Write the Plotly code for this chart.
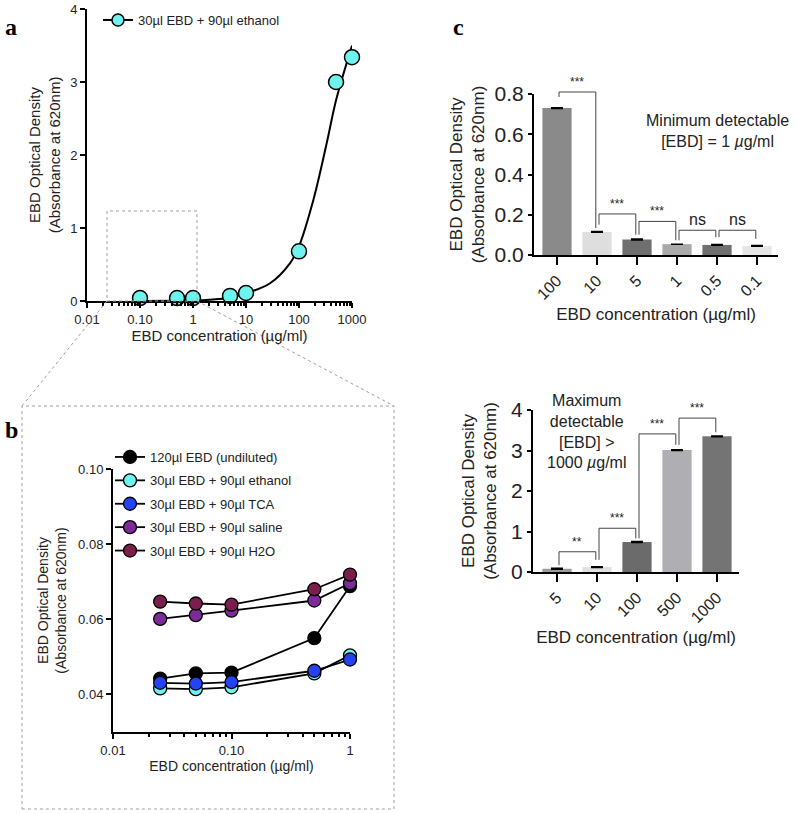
import plotly.graph_objects as go

FONT = "Liberation Sans"
SERIF = "Liberation Serif"

# ---------------- data ----------------
# panel a : ethanol dilution, full range
a_conc = [0.1, 0.5, 1, 5, 10, 100, 500, 1000]
a_od = [0.04, 0.04, 0.04, 0.07, 0.11, 0.68, 3.00, 3.34]
# fitted curve
fit_conc = [0.1, 0.5, 1, 2, 5, 10, 28, 68, 100, 186, 333, 500, 1000]
fit_od = [0.0, 0.004, 0.008, 0.018, 0.045, 0.105, 0.24, 0.52, 0.75, 1.38, 2.16, 2.75, 3.5]
a_label_alias = {"0.1": "0.10"}

# panel b : low range, five solvents
b_conc = [0.025, 0.05, 0.1, 0.5, 1]
b_undiluted = [0.0442, 0.0456, 0.0458, 0.0550, 0.0688]
b_ethanol = [0.0416, 0.0414, 0.0419, 0.0456, 0.0504]
b_tca = [0.0431, 0.0429, 0.0433, 0.0463, 0.0493]
b_saline = [0.0601, 0.0611, 0.0623, 0.0650, 0.0696]
b_h2o = [0.0647, 0.0642, 0.0639, 0.0680, 0.0719]
b_names = ["120µl EBD (undiluted)", "30µl EBD + 90µl ethanol", "30µl EBD + 90µl TCA",
           "30µl EBD + 90µl saline", "30µl EBD + 90µl H2O"]
b_yticks = [0.04, 0.06, 0.08, 0.10]

# panel c : minimum detectable
c_labels = ["100", "10", "5", "1", "0.5", "0.1"]
c_od = [0.730, 0.115, 0.077, 0.054, 0.050, 0.045]
c_err = [0.002, 0.002, 0.002, 0.0, 0.002, 0.002]
# (left idx, right idx, top, left leg end, right leg end, label)
c_sig = [(0, 1, 0.810, 0.785, 0.134, "***"),
         (1, 2, 0.204, 0.151, 0.101, "***"),
         (2, 3, 0.167, 0.101, 0.073, "***"),
         (3, 4, 0.123, 0.073, 0.089, "ns"),
         (4, 5, 0.123, 0.089, 0.080, "ns")]

# panel d : maximum detectable
d_labels = ["5", "10", "100", "500", "1000"]
d_od = [0.08, 0.12, 0.74, 3.01, 3.35]
d_err = [0.01, 0.01, 0.01, 0.01, 0.01]
d_sig = [(0, 1, 0.50, 0.17, 0.30, "**"),
         (1, 2, 1.08, 0.30, 0.83, "***"),
         (2, 3, 3.41, 0.83, 3.14, "***"),
         (3, 4, 3.80, 3.14, 3.45, "***")]

# ---------------- figure ----------------
W, H = 796, 813


def px(x):
    return x / W


def py(y):
    return 1 - y / H


# subplot geometry
a_xdom, a_ydom = [px(87), px(352)], [py(301), py(9)]
b_xdom, b_ydom = [px(113), px(350)], [py(732), py(469)]
c_xdom, c_ydom = [px(534), px(778)], [py(255), py(94)]
d_xdom, d_ydom = [px(533), px(739)], [py(572), py(410)]
c_xrng, c_yrng = [-0.575, 5.525], [0, 0.8]
d_xrng, d_yrng = [-0.6, 4.55], [0, 4]


def scale(v, dom, rng):
    return dom[0] + (v - rng[0]) / (rng[1] - rng[0]) * (dom[1] - dom[0])


def log_minor(e0, e1):
    return [m * 10 ** e for e in range(e0, e1) for m in range(2, 10)]


fig = go.Figure()

CYAN = "#6EF3EE"
b_colors = ["#000000", CYAN, "#2443F4", "#7D2B98", "#7C1E4C"]
b_series = [b_undiluted, b_ethanol, b_tca, b_saline, b_h2o]

# panel a
fig.add_trace(go.Scatter(x=fit_conc, y=fit_od, mode="lines", line=dict(color="black", width=2, shape="spline"),
                         xaxis="x", yaxis="y", showlegend=False, hoverinfo="skip"))
fig.add_trace(go.Scatter(x=a_conc, y=a_od, mode="markers",
                         marker=dict(size=15, color=CYAN, line=dict(color="black", width=1.5)),
                         xaxis="x", yaxis="y", showlegend=False, cliponaxis=False))
fig.add_trace(go.Scatter(x=[None], y=[None], mode="lines+markers", name=b_names[1],
                         marker=dict(size=12, color=CYAN, line=dict(color="black", width=1.5)),
                         line=dict(color="black", width=2), xaxis="x", yaxis="y", legend="legend"))

# panel b
for i, (nm, ys, col) in enumerate(zip(b_names, b_series, b_colors)):
    fig.add_trace(go.Scatter(x=b_conc, y=ys, mode="lines+markers", name=nm,
                             marker=dict(size=13, color=col, line=dict(color="black", width=1.3)),
                             line=dict(color="black", width=1.8), xaxis="x2", yaxis="y2",
                             legend="legend2", legendgroup=f"g{i}", cliponaxis=False))

# panel c
c_colors = ["#8A8A8A", "#DEDEDE", "#6F6F6F", "#A9A9A9", "#6F6F6F", "#E6E6E6"]
fig.add_trace(go.Bar(x=c_labels, y=c_od, marker=dict(color=c_colors, line=dict(width=0)),
                     error_y=dict(type="data", array=c_err, color="black", thickness=1.5, width=6),
                     xaxis="x3", yaxis="y3", showlegend=False))

# panel d
d_colors = ["#9C9C9C", "#E0E0E0", "#6B6B6B", "#AEAEB3", "#747474"]
fig.add_trace(go.Bar(x=d_labels, y=d_od, marker=dict(color=d_colors, line=dict(width=0)),
                     error_y=dict(type="data", array=d_err, color="black", thickness=1.5, width=6),
                     xaxis="x4", yaxis="y4", showlegend=False))

shapes = []
annotations = []


def bracket(sig, xdom, xrng, ydom, yrng):
    for (i, j, top, lb, rb, lab) in sig:
        xl = scale(i + 0.05, xdom, xrng)
        xr = scale(j - 0.03, xdom, xrng)
        yt = scale(top, ydom, yrng)
        yl = scale(lb, ydom, yrng)
        yr = scale(rb, ydom, yrng)
        ln = dict(color="#444444", width=1)
        shapes.append(dict(type="line", xref="paper", yref="paper", x0=xl, x1=xl, y0=yl, y1=yt, line=ln))
        shapes.append(dict(type="line", xref="paper", yref="paper", x0=xl, x1=xr, y0=yt, y1=yt, line=ln))
        shapes.append(dict(type="line", xref="paper", yref="paper", x0=xr, x1=xr, y0=yt, y1=yr, line=ln))
        annotations.append(dict(xref="paper", yref="paper", x=(xl + xr) / 2, y=yt, text=lab, showarrow=False,
                                xanchor="center", yanchor="bottom", yshift=0 if lab == "ns" else 1,
                                font=dict(family=FONT, size=16 if lab == "ns" else 12, color="#222")))


bracket(c_sig, c_xdom, c_xrng, c_ydom, c_yrng)
bracket(d_sig, d_xdom, d_xrng, d_ydom, d_yrng)

# zoom box and connecting dotted lines
dot = dict(color="#A0A0A0", width=1, dash="dot")
shapes.append(dict(type="rect", xref="paper", yref="paper", x0=px(107), x1=px(197), y0=py(301), y1=py(211), line=dot))
shapes.append(dict(type="rect", xref="paper", yref="paper", x0=px(22), x1=px(394), y0=py(809), y1=py(406), line=dot))
shapes.append(dict(type="line", xref="paper", yref="paper", x0=px(107), y0=py(301), x1=px(22), y1=py(406), line=dot))
shapes.append(dict(type="line", xref="paper", yref="paper", x0=px(197), y0=py(301), x1=px(394), y1=py(406), line=dot))

# panel letters
for lab, x, y in [("a", 11, 27), ("b", 11, 430), ("c", 458, 27)]:
    annotations.append(dict(xref="paper", yref="paper", x=px(x), y=py(y), text=f"<b>{lab}</b>", showarrow=False,
                            xanchor="center", yanchor="middle",
                            font=dict(family=SERIF, size=24, color="black")))

annotations.append(dict(xref="paper", yref="paper", x=px(717), y=py(131),
                        text="Minimum detectable<br>[EBD] = 1 <i>µ</i>g/ml", showarrow=False,
                        xanchor="center", yanchor="middle",
                        font=dict(family=FONT, size=16, color="#222")))
annotations.append(dict(xref="paper", yref="paper", x=px(587), y=py(431),
                        text="Maximum<br>detectable<br>[EBD] ><br>1000 <i>µ</i>g/ml", showarrow=False,
                        xanchor="center", yanchor="middle",
                        font=dict(family=FONT, size=16, color="#222")))

axline = dict(showline=True, linecolor="black", linewidth=2, ticks="outside", tickcolor="black",
              tickwidth=2, showgrid=False, zeroline=False, automargin=False)


def minor_log(vals):
    return dict(tickmode="array", tickvals=vals, ticks="outside", ticklen=3, tickwidth=1.5,
                tickcolor="black", showgrid=False)


fig.update_layout(
    template="none",
    width=W, height=H, margin=dict(l=0, r=0, t=0, b=0, pad=0),
    paper_bgcolor="white", plot_bgcolor="rgba(0,0,0,0)",
    font=dict(family=FONT, color="#222"),
    shapes=shapes, annotations=annotations,
    bargap=0.27,
    xaxis=dict(axline, type="log", domain=a_xdom, anchor="y", range=[-2, 3],
               tickmode="linear", tick0=0, dtick=1, exponentformat="none", labelalias=a_label_alias,
               ticklen=5, tickfont=dict(size=13), minor=minor_log(log_minor(-2, 3)),
               title=dict(text="EBD concentration (µg/ml)", font=dict(size=15), standoff=4)),
    yaxis=dict(axline, domain=a_ydom, anchor="x", range=[0, 4], dtick=1, ticklen=5,
               tickfont=dict(size=13),
               title=dict(text="EBD Optical Density<br>(Absorbance at 620nm)", font=dict(size=15), standoff=6)),
    xaxis2=dict(axline, type="log", domain=b_xdom, anchor="y2", range=[-2, 0],
                tickmode="linear", tick0=0, dtick=1, exponentformat="none", labelalias=a_label_alias,
                ticklen=5, tickfont=dict(size=13), minor=minor_log(log_minor(-2, 0)),
                title=dict(text="EBD concentration (µg/ml)", font=dict(size=14), standoff=4)),
    yaxis2=dict(axline, domain=b_ydom, anchor="x2", range=[0.03, 0.10],
                tickvals=b_yticks, tickformat=".2f", ticklen=5, tickfont=dict(size=13),
                title=dict(text="EBD Optical Density<br>(Absorbance at 620nm)", font=dict(size=14), standoff=8)),
    xaxis3=dict(axline, type="category", domain=c_xdom, anchor="y3", range=c_xrng,
                ticklen=8, tickangle=-45, tickfont=dict(size=16),
                title=dict(text="EBD concentration (µg/ml)", font=dict(size=17), standoff=6)),
    yaxis3=dict(axline, domain=c_ydom, anchor="x3", range=c_yrng, dtick=0.2, tickformat=".1f",
                ticklen=4, tickfont=dict(size=21),
                title=dict(text="EBD Optical Density<br>(Absorbance at 620nm)", font=dict(size=17), standoff=6)),
    xaxis4=dict(axline, type="category", domain=d_xdom, anchor="y4", range=d_xrng,
                ticklen=8, tickangle=-45, tickfont=dict(size=16),
                title=dict(text="EBD concentration (µg/ml)", font=dict(size=17), standoff=6)),
    yaxis4=dict(axline, domain=d_ydom, anchor="x4", range=d_yrng, dtick=1,
                ticklen=4, tickfont=dict(size=21),
                title=dict(text="EBD Optical Density<br>(Absorbance at 620nm)", font=dict(size=17), standoff=10)),
    legend=dict(x=px(98), y=py(5), xanchor="left", yanchor="top", font=dict(size=13),
                bgcolor="rgba(0,0,0,0)", itemwidth=30),
    legend2=dict(x=px(110), y=py(442), xanchor="left", yanchor="top", font=dict(size=13),
                 bgcolor="rgba(0,0,0,0)", itemwidth=30, tracegroupgap=3.5),
)

fig.write_html("out.html", config={"displayModeBar": False},
               post_script="document.body.style.margin='0';document.body.style.overflow='hidden';")
